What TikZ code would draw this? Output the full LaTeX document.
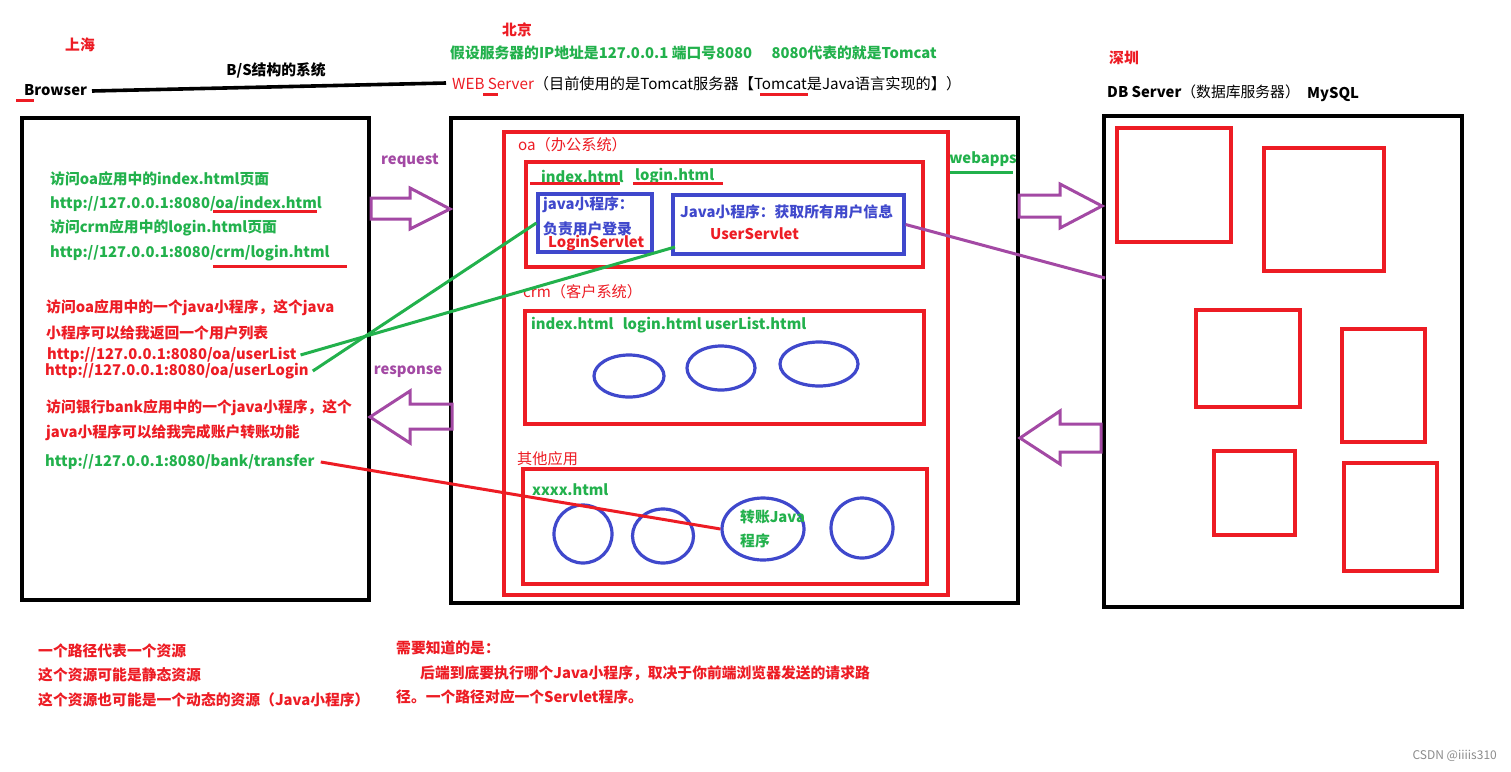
\documentclass[tikz,border=0pt]{standalone}
\usepackage{fontspec}
\setmainfont{Noto Sans CJK SC}
\usetikzlibrary{shapes.geometric}
\definecolor{pred}{HTML}{ED1C24}
\definecolor{pgreen}{HTML}{22B14C}
\definecolor{pblue}{HTML}{3F48CC}
\definecolor{ppurple}{HTML}{A349A4}
\begin{document}
\begin{tikzpicture}[x=1pt,y=-1pt,
  txt/.style={anchor=west, inner sep=0pt, font=\fontsize{14.8}{16}\selectfont\bfseries},
  gtxt/.style={txt, text=pgreen},
  rtxt/.style={txt, text=pred},
  ktxt/.style={txt, text=black},
  btxt/.style={txt, text=pblue},
  ptxt/.style={txt, text=ppurple, anchor=center},
  reg/.style={anchor=west, inner sep=0pt, font=\fontsize{15.2}{17}\selectfont},
  kbox/.style={draw=black, line width=3.6pt, inner sep=0pt},
  rbox/.style={draw=pred, line width=3.2pt, inner sep=0pt},
  bbox/.style={draw=pblue, line width=3.2pt, inner sep=0pt},
  ell/.style={ellipse, draw=pblue, line width=3.2pt, inner sep=0pt},
  ul/.style={draw=pred, line width=3pt},
  gline/.style={draw=pgreen, line width=3pt},
  blockarrow/.style={draw=ppurple, line width=3pt, line join=miter}
]
\useasboundingbox (0,0) rectangle (1511,771);
\fill[white] (0,0) rectangle (1511,771);

% ---------------- top labels ----------------
\node[rtxt, anchor=center] (sh) at (80,45) {上海};
\node[ktxt] (browserlbl) at (24,90) {Browser};
\draw[ul] (16,100) -- (34,100);
\node[ktxt, anchor=center] (bs) at (276,70) {B/S结构的系统};
\coordinate (lineend) at (446,83);
\draw[line width=3.6pt] (92,91) -- (lineend);
\node[rtxt, anchor=center] (bj) at (517,30) {北京};
\node[gtxt] (ipinfo) at (450,53) {假设服务器的IP地址是127.0.0.1 端口号8080\hspace{1.3em}8080代表的就是Tomcat};
\node[reg] (websrv) at (452,84) {\textcolor{pred}{WEB Server}（目前使用的是Tomcat服务器【Tomcat是Java语言实现的】）};
\draw[ul] (483,94) -- (498,94);
\draw[ul] (760,94) -- (808,94);
\node[rtxt, anchor=center] (sz) at (1124,58) {深圳};
\node[ktxt] (dbsrv) at (1107,92) {DB Server\mdseries（数据库服务器）};
\node[ktxt] (mysql) at (1307,95) {MySQL};

% ---------------- main boxes ----------------
\node[kbox, minimum width=347, minimum height=482] (browser) at (195.5,359) {};
\node[kbox, minimum width=567, minimum height=485] (server) at (734.5,360.5) {};
\node[kbox, minimum width=358, minimum height=491] (db) at (1283,361.5) {};

% ---------------- browser texts ----------------
\node[gtxt] (t1) at (50,179) {访问oa应用中的index.html页面};
\node[gtxt] (t2) at (50,204) {http://127.0.0.1:8080/oa/index.html};
\draw[ul] (213,211) -- (317,211);
\node[gtxt] (t3) at (50,228) {访问crm应用中的login.html页面};
\node[gtxt] (t4) at (50,253) {http://127.0.0.1:8080/crm/login.html};
\draw[ul] (213,266) -- (347,266);
\node[rtxt] (t5) at (46,308) {访问oa应用中的一个java小程序，这个java};
\node[rtxt] (t6) at (46,333) {小程序可以给我返回一个用户列表};
\node[rtxt] (ulist) at (47,355) {http://127.0.0.1:8080/oa/userList};
\node[rtxt] (ulogin) at (45,371) {http://127.0.0.1:8080/oa/userLogin};
\node[rtxt] (t7) at (46,408) {访问银行bank应用中的一个java小程序，这个};
\node[rtxt] (t8) at (46,433) {java小程序可以给我完成账户转账功能};
\node[gtxt] (transfer) at (45,462) {http://127.0.0.1:8080/bank/transfer};

% ---------------- request / response ----------------
\node[ptxt] (req) at (410,161) {request};
\node[ptxt] (resp) at (408,372) {response};
\draw[blockarrow] (371,198) -- (410,198) -- (410,188) -- (450,209) -- (410,229) -- (410,219) -- (371,219) -- cycle;
\draw[blockarrow] (452,404) -- (410,404) -- (410,391) -- (370,417) -- (410,443) -- (410,429) -- (452,429) -- cycle;
\draw[blockarrow] (1019,195) -- (1060,195) -- (1060,184) -- (1102,206) -- (1060,228) -- (1060,217) -- (1019,217) -- cycle;
\draw[blockarrow] (1101,424) -- (1060,424) -- (1060,411) -- (1020,438) -- (1060,464) -- (1060,452) -- (1101,452) -- cycle;

% ---------------- server contents ----------------
\node[gtxt, anchor=center] (webapps) at (983,159) {webapps};
\draw[gline] (949,172) -- (1013,172);
\node[rbox, minimum width=444, minimum height=463] (apps) at (726,363.5) {};
\node[reg, text=pred] (oalbl) at (518,145) {oa（办公系统）};
\node[rbox, minimum width=397, minimum height=105] (oabox) at (724.5,214.5) {};
\node[gtxt] (oaidx) at (541,176) {index.html};
\draw[ul] (530,183) -- (620,183);
\node[gtxt] (oalogin) at (635,176) {login.html};
\draw[ul] (633,183) -- (723,183);
\node[bbox, minimum width=114, minimum height=58] (box1) at (595,223) {};
\node[btxt] (b1a) at (543,205) {java小程序：};
\node[btxt] (b1b) at (543,229) {负责用户登录};
\node[rtxt] (b1c) at (548,243) {LoginServlet};
\node[bbox, minimum width=231, minimum height=59] (box2) at (788.5,224.5) {};
\node[btxt] (b2a) at (680,212) {Java小程序：获取所有用户信息};
\node[rtxt] (b2b) at (710,234) {UserServlet};

\node[reg, text=pred] (crmlbl) at (523,292) {crm（客户系统）};
\node[rbox, minimum width=399, minimum height=113] (crmbox) at (724.5,367.5) {};
\node[gtxt] (crmfiles) at (531,325) {index.html\hspace{0.4em} login.html userList.html};
\node[ell, minimum width=70, minimum height=42] (e1) at (629,376) {};
\node[ell, minimum width=68, minimum height=44] (e2) at (721,368) {};
\node[ell, minimum width=78, minimum height=44] (e3) at (819,364) {};

\node[reg, text=pred] (otherlbl) at (517,459) {其他应用};
\node[rbox, minimum width=404, minimum height=115] (otherbox) at (725,526.5) {};
\node[gtxt] (xxxx) at (532,490) {xxxx.html};
\node[ell, minimum width=58, minimum height=58] (c1) at (583,534) {};
\node[ell, minimum width=61, minimum height=54] (c2) at (663,536) {};
\node[ell, minimum width=82, minimum height=62] (c3) at (763,529) {};
\node[ell, minimum width=62, minimum height=60] (c4) at (862,528) {};
\node[gtxt] (zz1) at (740,517) {转账Java};
\node[gtxt] (zz2) at (740,541) {程序};

% ---------------- DB contents ----------------
\node[rbox, minimum width=114, minimum height=114] (d1) at (1174,185) {};
\node[rbox, minimum width=120, minimum height=123] (d2) at (1324,209.5) {};
\node[rbox, minimum width=104, minimum height=97] (d3) at (1248,358.5) {};
\node[rbox, minimum width=83, minimum height=113] (d4) at (1383.5,385.5) {};
\node[rbox, minimum width=81, minimum height=84] (d5) at (1254.5,493) {};
\node[rbox, minimum width=93, minimum height=108] (d6) at (1390.5,517) {};

% ---------------- connectors ----------------
\coordinate (u2end) at (675,247);
\coordinate (dbhit) at (1105,278);
\draw[gline] ([xshift=4pt]ulist.east) -- (u2end);
\draw[gline] ([xshift=4pt]ulogin.east) -- (box1.west);
\draw[draw=pred, line width=3pt] ([xshift=6pt]transfer.east) -- (c3.west);
\draw[draw=ppurple, line width=3pt] (box2.east) -- (dbhit);

% ---------------- bottom notes ----------------
\node[rtxt] (n1) at (38,651) {一个路径代表一个资源};
\node[rtxt] (n2) at (38,675) {这个资源可能是静态资源};
\node[rtxt] (n3) at (38,700) {这个资源也可能是一个动态的资源（Java小程序）};
\node[rtxt] (n4) at (396,648) {需要知道的是：};
\node[rtxt] (n5) at (420,673) {后端到底要执行哪个Java小程序，取决于你前端浏览器发送的请求路};
\node[rtxt] (n6) at (396,697) {径。一个路径对应一个Servlet程序。};

\node[anchor=east, inner sep=0pt, text=black!45, font=\fontsize{12}{14}\selectfont] (wm) at (1497,756) {CSDN @iiiis310};
\end{tikzpicture}
\end{document}
